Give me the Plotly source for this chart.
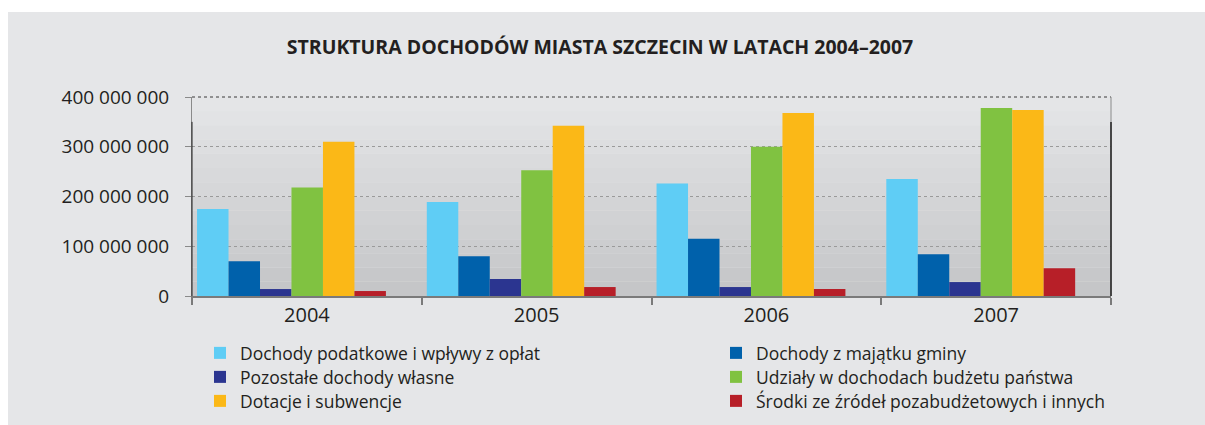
import plotly.graph_objects as go

# Annual revenue structure of Szczecin, 2004-2007 (PLN)
years = ["2004", "2005", "2006", "2007"]

series_names = [
    "Dochody podatkowe i wpływy z opłat",
    "Dochody z majątku gminy",
    "Pozostałe dochody własne",
    "Udziały w dochodach budżetu państwa",
    "Dotacje i subwencje",
    "Środki ze źródeł pozabudżetowych i innych",
]

podatkowe = [175_000_000, 189_000_000, 226_000_000, 235_000_000]
majatek = [70_000_000, 80_000_000, 115_000_000, 84_000_000]
pozostale = [14_000_000, 34_000_000, 18_000_000, 28_000_000]
udzialy = [218_000_000, 253_000_000, 300_000_000, 378_000_000]
dotacje = [310_000_000, 342_000_000, 368_000_000, 374_000_000]
srodki = [10_000_000, 18_000_000, 14_000_000, 56_000_000]

y_ticks = [0, 100_000_000, 200_000_000, 300_000_000, 400_000_000]

series_values = [podatkowe, majatek, pozostale, udzialy, dotacje, srodki]
colors = ["#5fcdf5", "#0061ab", "#2b3590", "#80c241", "#fbb817", "#b71f28"]

# --- geometry ---------------------------------------------------------------
W, H = 1205, 425
ML, MR, MT, MB = 192, 94, 97, 129
PW, PH = W - ML - MR, H - MT - MB


def px_x(p):
    return (p - ML) / PW


def px_y(p):
    return (H - MB - p) / PH


FONT = "Open Sans"
TXT = "#231f20"

bar_w = 0.137
group_start = -0.478

# legend laid out as two columns, three rows (row by row)
legend_cols = [200, 716]
legend_rows = [353, 377, 401]

fig = go.Figure()
legends = {}
for i, (name, vals, col) in enumerate(zip(series_names, series_values, colors)):
    lg = "legend" if i == 0 else "legend%d" % (i + 1)
    fig.add_trace(go.Bar(
        x=years, y=vals, name=name,
        marker=dict(color=col, line=dict(width=0)),
        width=bar_w, offset=group_start + i * bar_w,
        legend=lg,
    ))
    legends[lg] = dict(
        x=px_x(legend_cols[i % 2]), xanchor="left",
        y=px_y(legend_rows[i // 2]), yanchor="middle",
        orientation="v",
        bgcolor="rgba(0,0,0,0)", borderwidth=0,
        font=dict(family=FONT, size=17.5, color=TXT),
        itemwidth=30,
    )

# vertical gradient behind the plot area, built from bands
shapes = []
n_bands = 14
top_rgb = (228, 229, 231)
bot_rgb = (197, 198, 200)
for k in range(n_bands):
    t = k / (n_bands - 1)
    c = tuple(round(top_rgb[j] + (bot_rgb[j] - top_rgb[j]) * t) for j in range(3))
    shapes.append(dict(
        type="rect", xref="x domain", yref="y domain",
        x0=0, x1=1, y0=1 - (k + 1) / n_bands, y1=1 - k / n_bands,
        fillcolor="rgb(%d,%d,%d)" % c, line=dict(width=0), layer="below",
    ))

# white margins around the grey panel
shapes.append(dict(type="rect", xref="paper", yref="paper",
                   x0=px_x(-5), x1=px_x(W + 5), y0=px_y(12), y1=px_y(-5),
                   fillcolor="white", line=dict(width=0), layer="below"))
shapes.append(dict(type="rect", xref="paper", yref="paper",
                   x0=px_x(-5), x1=px_x(8), y0=px_y(H + 5), y1=px_y(-5),
                   fillcolor="white", line=dict(width=0), layer="below"))

# dotted frame line at the top of the plot area
shapes.append(dict(type="line", xref="x domain", yref="y domain",
                   x0=0, x1=1, y0=1, y1=1,
                   line=dict(color="#3a3a3a", width=1, dash="dot"), layer="above"))
# right frame line
shapes.append(dict(type="line", xref="x domain", yref="y domain",
                   x0=1, x1=1, y0=0, y1=1,
                   line=dict(color="#8a8a8a", width=1), layer="above"))
shapes.append(dict(type="line", xref="x domain", yref="y",
                   x0=1, x1=1, y0=0, y1=350_000_000,
                   line=dict(color="#222222", width=1.5), layer="above"))
shapes.append(dict(type="line", xref="x domain", yref="y",
                   x0=0, x1=0, y0=0, y1=350_000_000,
                   line=dict(color="#222222", width=1), layer="above"))

fig.update_layout(
    width=W, height=H, autosize=False,
    margin=dict(l=ML, r=MR, t=MT, b=MB, pad=0, autoexpand=False),
    paper_bgcolor="#e5e6e8",
    plot_bgcolor="rgba(0,0,0,0)",
    separators=", ",
    barmode="overlay",
    font=dict(family=FONT, color=TXT, size=19),
    title=dict(
        text="<b>STRUKTURA DOCHODÓW MIASTA SZCZECIN W LATACH 2004–2007</b>",
        x=600 / W, xref="container", xanchor="center",
        y=1 - 47 / H, yref="container", yanchor="middle",
        font=dict(family=FONT, size=19.5, color=TXT),
    ),
    shapes=shapes,
    showlegend=True,
    **legends,
)

fig.update_xaxes(
    type="category",
    showgrid=False,
    showline=True, linecolor="#7a7a7a", linewidth=1.5,
    ticks="outside", tickson="boundaries", ticklen=7,
    tickcolor="#7a7a7a", tickwidth=1.5,
    tickfont=dict(family=FONT, size=20, color=TXT),
    range=[-0.5, 3.5],
)

fig.update_yaxes(
    range=[0, 400_000_000],
    tickvals=y_ticks, tickformat=",d",
    showgrid=True, gridcolor="#9a9a9a", griddash="dot", gridwidth=1,
    zeroline=False,
    showline=True, linecolor="#8a8a8a", linewidth=1,
    ticks="outside", ticklen=6, tickcolor="#8a8a8a",
    ticklabelstandoff=12,
    tickfont=dict(family=FONT, size=19, color=TXT),
)

fig.write_html("out.html")
